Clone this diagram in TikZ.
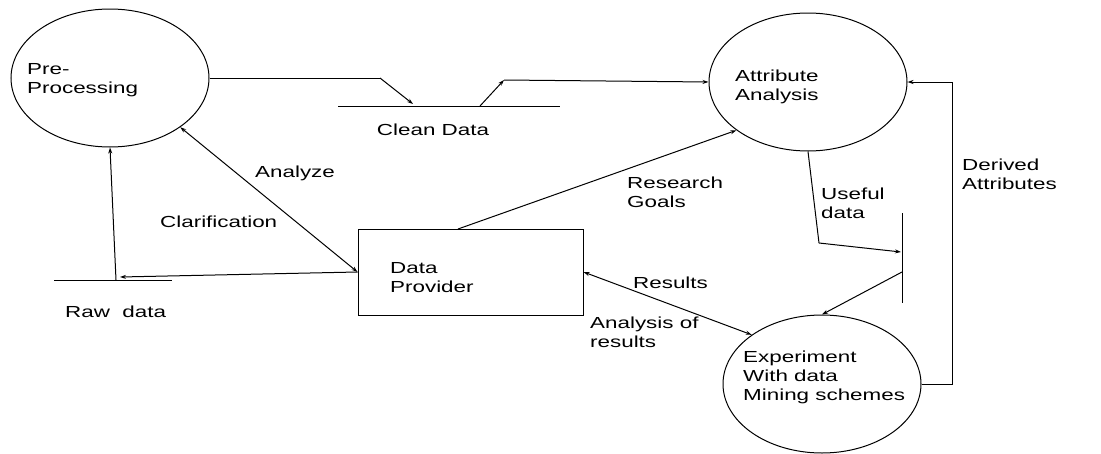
\documentclass[tikz,border=0pt]{standalone}
\usepackage{fontspec}
\setmainfont{Liberation Sans}[FakeStretch=1.4]
\usetikzlibrary{shapes.geometric,arrows.meta}
\begin{document}
\begin{tikzpicture}[x=1pt,y=-1pt,
  proc/.style={draw,ellipse,line width=1pt,minimum width=198pt,minimum height=138pt,inner sep=0pt},
  entity/.style={draw,rectangle,line width=1pt,minimum width=225pt,minimum height=86pt,inner sep=0pt},
  lbl/.style={anchor=base west,inner sep=0pt,align=left,font=\fontsize{16}{19}\selectfont},
  flow/.style={line width=1pt,-{Stealth[length=6pt,width=4pt]}},
  both/.style={line width=1pt,{Stealth[length=6pt,width=4pt]}-{Stealth[length=6pt,width=4pt]}},
  plain/.style={line width=1pt},
  store/.style={line width=1pt}]
\useasboundingbox (0,0) rectangle (1101,453);
% processes
\node[proc] (pre) at (110,78) {};
\node[proc] (attr) at (808,82) {};
\node[proc] (exp) at (822,384) {};
\node[entity] (dp) at (470.5,272) {};
% labels inside shapes (base = last line baseline)
\node[lbl] (tpre) at (27,93) {Pre-\\Processing};
\node[lbl] (tattr) at (735,100) {Attribute\\Analysis};
\node[lbl] (texp) at (743,400) {Experiment\\With data\\Mining schemes};
\node[lbl] (tdp) at (390,292) {Data\\Provider};
% data stores
\coordinate (cleanL) at (338,106);
\coordinate (cleanR) at (560,106);
\draw[store] (cleanL) -- (cleanR);
\node[lbl,anchor=base] (tclean) at (433,135) {Clean Data};
\coordinate (rawL) at (54,280);
\coordinate (rawR) at (172,280);
\draw[store] (rawL) -- (rawR);
\node[lbl] (traw) at (65,317) {Raw\ \ data};
\coordinate (useT) at (902,213);
\coordinate (useB) at (902,303);
\draw[store] (useT) -- (useB);
% flows
\coordinate (c1) at (380,78);
\coordinate (c1e) at (413,104);
\draw[plain] (pre.east) -- (c1);
\draw[flow] (c1) -- (c1e);
\coordinate (c2s) at (480,106);
\coordinate (c2) at (504,80);
\draw[flow] (c2s) -- (c2);
\draw[flow] (c2) -- (attr.west);
\draw[both] (pre.-35) -- (dp.west);
\coordinate (rawA) at (120,277);
\draw[flow] (dp.west) -- (rawA);
\coordinate (rawU) at (116,280);
\draw[flow] (rawU) -- (pre.south);
\coordinate (rg) at (458,229);
\draw[flow] (rg) -- (attr.214);
\coordinate (ud) at (819,243);
\coordinate (ude) at (901,252);
\draw[plain] (attr.south) -- (ud);
\draw[flow] (ud) -- (ude);
\coordinate (uo) at (902,272);
\draw[flow] (uo) -- (exp.north);
\coordinate (d1) at (952,384);
\coordinate (d2) at (952,82);
\draw[flow] (exp.east) -- (d1) -- (d2) -- (attr.east);
\draw[both] (dp.east) -- (exp.145);
% flow labels
\node[lbl] (tanalyze) at (255,177) {Analyze};
\node[lbl] (tclar) at (160,227) {Clarification};
\node[lbl] (trg) at (627,207) {Research\\Goals};
\node[lbl] (tuse) at (821,218) {Useful\\data};
\node[lbl] (tder) at (962,189) {Derived\\Attributes};
\node[lbl] (tres) at (633,288) {Results};
\node[lbl] (tana) at (590,347) {Analysis of\\results};
\end{tikzpicture}
\end{document}
